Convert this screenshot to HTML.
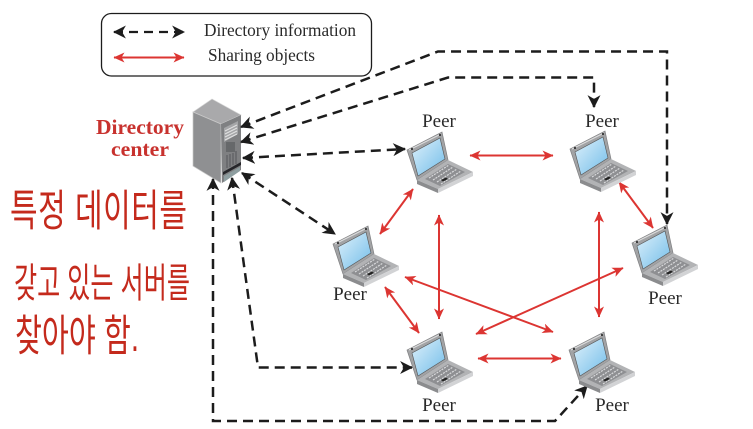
<!DOCTYPE html>
<html><head><meta charset="utf-8"><style>
html,body{margin:0;padding:0;background:#fff;width:753px;height:429px;overflow:hidden}
svg{display:block}
.p{font:19px "Liberation Serif",serif;fill:#2a2a2a;text-anchor:middle}
.k{font-family:"Liberation Sans","Noto Sans CJK KR",sans-serif;font-weight:400;fill:#c42a1f}
.b{fill:none;stroke:#1c1c1c;stroke-width:2.500;stroke-dasharray:10 6}
.r{stroke:#dc3430;stroke-width:2;fill:none}
</style></head><body>
<svg width="753" height="429" viewBox="0 0 753 429" xmlns="http://www.w3.org/2000/svg">
<defs>
<filter id="soft" x="0" y="0" width="100%" height="100%"><feGaussianBlur stdDeviation="0.35"/></filter>
<marker id="ab" viewBox="0 0 12 12" refX="11" refY="6" markerWidth="13" markerHeight="13" markerUnits="userSpaceOnUse" orient="auto-start-reverse"><path d="M0 0L12 6L0 12L3.500 6Z" fill="#1c1c1c"/></marker>
<marker id="ar" viewBox="0 0 11 10" refX="10.500" refY="5" markerWidth="11" markerHeight="10" markerUnits="userSpaceOnUse" orient="auto-start-reverse"><path d="M0 0L11 5L0 10L3 5Z" fill="#dc3430"/></marker>
<linearGradient id="sc" x1="0" y1="0" x2="1" y2="1"><stop offset="0" stop-color="#dff1fb"/><stop offset="1" stop-color="#72bde9"/></linearGradient>
<g id="lap">
<path d="M0 18L35 0L41 28L10 48Z" fill="#a2a3a5" stroke="#808183" stroke-width=".7"/>
<path d="M2 18L34 2" stroke="#dcdcdc" stroke-width="1"/>
<path d="M5 21L33 6L38 27L11 44Z" fill="url(#sc)" stroke="#555" stroke-width=".6"/>
<path d="M10 48L41 28L66 40L31 57Z" fill="#b2b3b5"/>
<path d="M10 48L31 57V61L10 52Z" fill="#8b8c8e"/>
<path d="M31 57L66 40V44L31 61Z" fill="#d2d3d5"/>
<path d="M18 47L41 32L58 40L33 54Z" fill="#8e8f92"/>
<path d="M22 46L42 33M26 48L46 35M30 50L50 37M34 52L54 39" stroke="#d8d9db" stroke-width="1.200" stroke-dasharray="2 1" fill="none"/>
<path d="M34 48L39 45.500L41 47L36 49.500Z" fill="#222"/>
<circle cx="5" cy="17" r="1.100" fill="#333"/><circle cx="33" cy="3" r="1.100" fill="#333"/>
</g>
</defs>
<g filter="url(#soft)">
<rect width="753" height="429" fill="#fff"/>

<rect x="101.500" y="13.500" width="270" height="62.500" rx="10" fill="#fff" stroke="#1c1c1c" stroke-width="1.300"/>
<path d="M114 32H184" class="b" style="stroke-width:2.200;stroke-dasharray:9 6" marker-start="url(#ab)" marker-end="url(#ab)"/>
<path d="M114 57.500H184" class="r" marker-start="url(#ar)" marker-end="url(#ar)"/>
<text x="204" y="36" font-family="Liberation Serif,serif" font-size="18" fill="#2a2a2a" textLength="152" lengthAdjust="spacingAndGlyphs">Directory information</text>
<text x="208" y="61" font-family="Liberation Serif,serif" font-size="18" fill="#2a2a2a" textLength="107" lengthAdjust="spacingAndGlyphs">Sharing objects</text>

<text x="140" y="134" font-family="Liberation Serif,serif" font-size="21" font-weight="700" fill="#c8312e" text-anchor="middle" textLength="88" lengthAdjust="spacingAndGlyphs">Directory</text>
<text x="140" y="156" font-family="Liberation Serif,serif" font-size="21" font-weight="700" fill="#c8312e" text-anchor="middle" textLength="58" lengthAdjust="spacingAndGlyphs">center</text>

<!-- server -->
<path d="M193 112L212 99L241 115L221 124Z" fill="#a9a9ab" stroke="#d5d5d5" stroke-width=".7"/>
<path d="M193 112L221 124V183L193 166Z" fill="#8f9092" stroke="#c8c8c8" stroke-width=".7"/>
<path d="M221 124L241 115V170L222 183Z" fill="#7f8082"/>
<path d="M224 128L238 121V134L224 142Z" fill="#a5a6a8"/>
<path d="M225 131L237 125M225 134L237 128M225 137L237 131M225 140L237 134" stroke="#e2e2e2" stroke-width="1"/>
<rect x="226" y="142" width="9" height="10" fill="#66676a"/>
<path d="M227 155V168M230 154V167M233 153V165M236 151V164" stroke="#55565a" stroke-width="1"/>
<path d="M223 172L241 162V165L223 175Z" fill="#26272a"/>
<path d="M224 176L240 167V171L224 182Z" fill="#8e9ea0"/>

<!-- black connectors -->
<path class="b" marker-start="url(#ab)" marker-end="url(#ab)" d="M241 127L438 51.500H667V224"/>
<path class="b" marker-start="url(#ab)" marker-end="url(#ab)" d="M241 142L448 77.500H594V107"/>
<path class="b" marker-start="url(#ab)" marker-end="url(#ab)" d="M243 158L405 149"/>
<path class="b" marker-start="url(#ab)" marker-end="url(#ab)" d="M242 173L335 234"/>
<path class="b" marker-start="url(#ab)" marker-end="url(#ab)" d="M232 178L258 367.500H412"/>
<path class="b" marker-start="url(#ab)" marker-end="url(#ab)" d="M213 179V421H555L587 386"/>

<!-- red connectors -->
<path class="r" marker-start="url(#ar)" marker-end="url(#ar)" d="M470 155.500H553"/>
<path class="r" marker-start="url(#ar)" marker-end="url(#ar)" d="M413 189L380 234"/>
<path class="r" marker-start="url(#ar)" marker-end="url(#ar)" d="M439 215V319"/>
<path class="r" marker-start="url(#ar)" marker-end="url(#ar)" d="M405 277L553 332"/>
<path class="r" marker-start="url(#ar)" marker-end="url(#ar)" d="M623 268L476 334"/>
<path class="r" marker-start="url(#ar)" marker-end="url(#ar)" d="M599 212V317"/>
<path class="r" marker-start="url(#ar)" marker-end="url(#ar)" d="M385 287L419 333"/>
<path class="r" marker-start="url(#ar)" marker-end="url(#ar)" d="M478 358.500H561"/>
<path class="r" marker-start="url(#ar)" marker-end="url(#ar)" d="M619 182L653 228"/>

<!-- laptops -->
<use href="#lap" x="407" y="132"/>
<use href="#lap" x="570" y="131"/>
<use href="#lap" x="632" y="225"/>
<use href="#lap" x="333" y="226"/>
<use href="#lap" x="407" y="332"/>
<use href="#lap" x="569" y="332"/>

<text class="p" x="439" y="127">Peer</text>
<text class="p" x="602" y="127">Peer</text>
<text class="p" x="665" y="304">Peer</text>
<text class="p" x="350" y="300">Peer</text>
<text class="p" x="439" y="411">Peer</text>
<text class="p" x="612" y="411">Peer</text>

<!-- handwritten note -->
<text class="k" font-size="30" transform="translate(10 226) scale(1 1.450)" textLength="177" lengthAdjust="spacing">특정 데이터를</text>
<text class="k" font-size="30" transform="translate(14 297) scale(1 1.350)" textLength="176" lengthAdjust="spacingAndGlyphs">갖고 있는 서버를</text>
<text class="k" font-size="30" transform="translate(15 351) scale(1 1.450)" textLength="124" lengthAdjust="spacingAndGlyphs">찾아야 함.</text>
</g>
</svg>
</body></html>
